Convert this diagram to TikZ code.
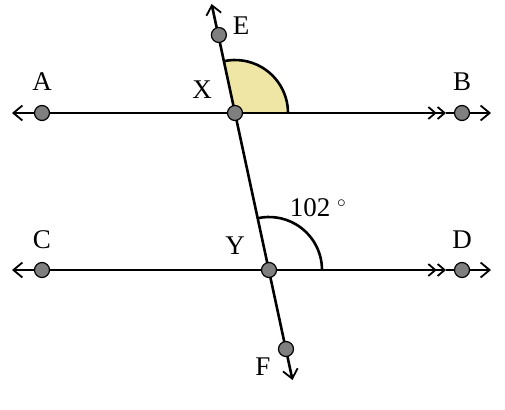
\documentclass[tikz,border=0pt]{standalone}
\usepackage{fontspec}
\setmainfont{Liberation Serif}
\usetikzlibrary{arrows.meta,calc}
\definecolor{ptgray}{HTML}{7F7F7F}
\definecolor{angyellow}{HTML}{EFE6A6}
\begin{document}
\begin{tikzpicture}[x=1pt,y=-1pt,
  dot/.style={circle,draw=black,fill=ptgray,line width=1.2pt,minimum size=15pt,inner sep=0pt},
  lbl/.style={font=\fontsize{27}{30}\selectfont,inner sep=0pt},
  ln/.style={line width=2.6pt,line cap=butt},
  barb/.style={-{Straight Barb[length=9pt,width=15pt,line width=1.8pt]}},
  dbarb/.style={-{Straight Barb[length=7pt,width=12pt,line width=1.8pt] Straight Barb[length=7pt,width=12pt,line width=1.8pt]}}]
\useasboundingbox (0,0) rectangle (505,409);
% line coordinates
\coordinate (ABl) at (12,113);
\coordinate (ABr) at (491,113);
\coordinate (ABm) at (446,113);
\coordinate (CDl) at (12,270);
\coordinate (CDr) at (491,270);
\coordinate (CDm) at (446,270);
\coordinate (Et) at (211.6,4);
\coordinate (Fb) at (292.5,380);
\coordinate (Xc) at (235,113);
\coordinate (Yc) at (269,270);
% angle sectors
\fill[angyellow] (Xc) -- ++(53,0) arc[start angle=0,end angle=-102.2,radius=53] -- cycle;
\draw[line width=2.6pt] ($(Xc)+(53,0)$) arc[start angle=0,end angle=-102.2,radius=53];
\draw[line width=2.6pt] ($(Yc)+(53,0)$) arc[start angle=0,end angle=-102.2,radius=53];
% lines
\draw[ln,barb] (Xc) -- (ABl);
\draw[ln,dbarb] (Xc) -- (ABm);
\draw[ln,barb] (ABm) -- (ABr);
\draw[ln,barb] (Yc) -- (CDl);
\draw[ln,dbarb] (Yc) -- (CDm);
\draw[ln,barb] (CDm) -- (CDr);
\draw[ln,barb] (Xc) -- (Et);
\draw[ln,barb] (Xc) -- (Fb);
% points
\node[dot] (A) at (42,113) {};
\node[dot] (B) at (462,113) {};
\node[dot] (C) at (42,270) {};
\node[dot] (D) at (462,270) {};
\node[dot] (X) at (Xc) {};
\node[dot] (Y) at (Yc) {};
\node[dot] (E) at (218.9,35) {};
\node[dot] (F) at (286,349) {};
% labels
\node[lbl] (lA) at (42,82) {A};
\node[lbl] (lB) at (462,82) {B};
\node[lbl] (lC) at (42,240) {C};
\node[lbl] (lD) at (462,240) {D};
\node[lbl] (lE) at (241,26) {E};
\node[lbl] (lX) at (202,90) {X};
\node[lbl] (lY) at (235,246) {Y};
\node[lbl] (lF) at (263,367) {F};
\node[lbl] (lang) at (318,208) {102 $^\circ$};
\end{tikzpicture}
\end{document}
